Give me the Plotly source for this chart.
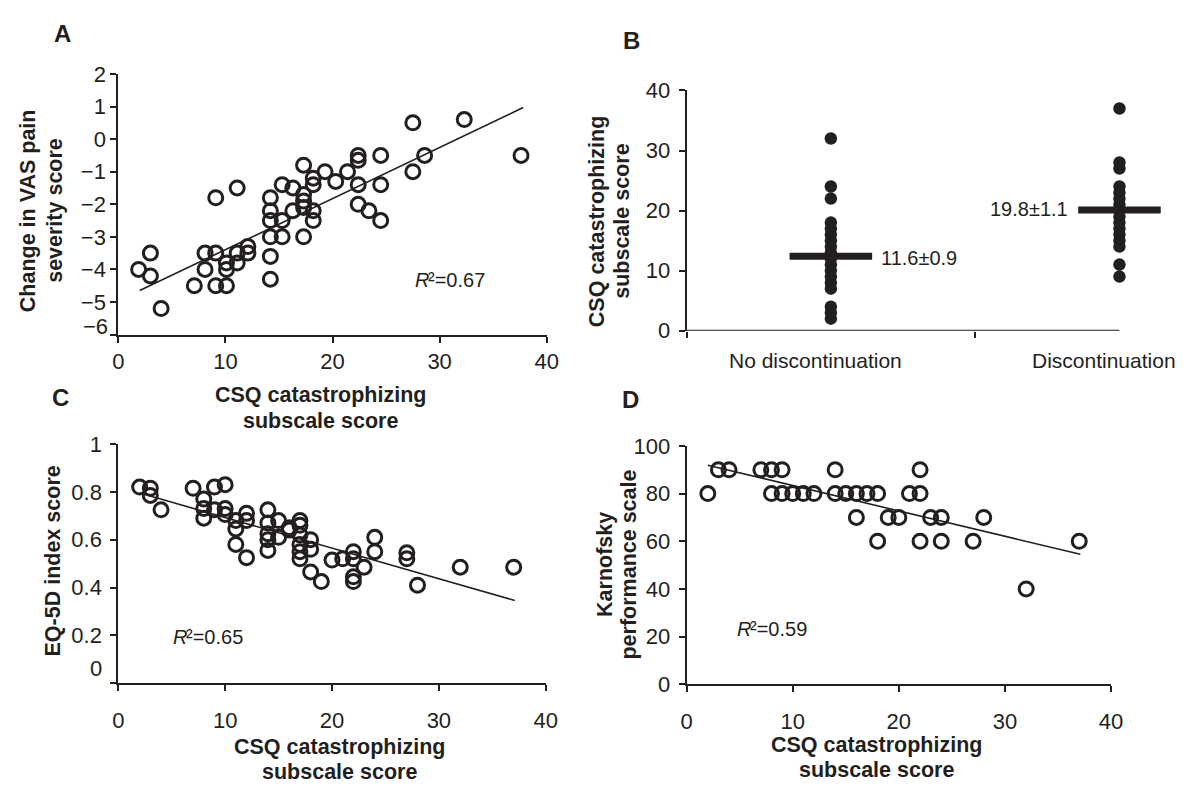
import plotly.graph_objects as go

W, H = 1194, 796

# ---------------- Data ----------------
# Panel A: CSQ catastrophizing vs change in VAS pain severity
a_x = [1.9, 3.0, 3.0, 4.0, 7.1, 8.1, 8.1, 9.1, 9.1, 9.1, 10.1, 10.1, 10.1, 11.1, 11.1, 11.1,
       12.1, 12.1, 14.2, 14.2, 14.2, 14.2, 14.2, 14.2, 15.3, 15.3, 15.3, 16.3, 16.3,
       17.3, 17.3, 17.3, 17.3, 17.3, 18.2, 18.2, 18.2, 18.2, 19.3, 20.3, 21.4,
       22.4, 22.4, 22.4, 22.4, 23.4, 24.5, 24.5, 24.5, 27.5, 27.5, 28.6, 32.3, 37.6]
a_y = [-4.0, -3.5, -4.2, -5.2, -4.5, -3.5, -4.0, -1.8, -3.5, -4.5, -3.8, -4.0, -4.5, -1.5, -3.5, -3.8,
       -3.3, -3.5, -1.8, -2.2, -2.5, -3.0, -3.6, -4.3, -1.4, -2.5, -3.0, -1.5, -2.2,
       -0.8, -1.7, -1.9, -2.1, -3.0, -1.2, -1.4, -2.2, -2.5, -1.0, -1.3, -1.0,
       -0.5, -0.65, -1.4, -2.0, -2.2, -0.5, -1.4, -2.5, 0.5, -1.0, -0.5, 0.6, -0.5]
a_fit_x = [2.0, 37.8]
a_fit_y = [-4.65, 0.97]
a_r2 = "0.67"
a_yticks = [-5, -4, -3, -2, -1, 0, 1, 2]
a_ytext = ["−5", "−4", "−3", "−2", "−1", "0", "1", "2"]

# Panel B: CSQ scores by group
b_categories = ["No discontinuation", "Discontinuation"]
b_values = [
    [32, 24, 22, 18, 17, 16, 15, 14, 13, 12, 11, 10, 9, 8, 7, 4, 3, 2],
    [37, 28, 27, 24, 23, 22, 21, 20, 19, 18, 17, 16, 15, 14, 11, 9],
]
b_mean_bar = [12.4, 20.1]
b_mean_text = ["11.6±0.9", "19.8±1.1"]
b_yticks = [0, 10, 20, 30, 40]

# Panel C: CSQ catastrophizing vs EQ-5D index score
c_x = [2, 3, 3, 4, 7, 8, 8, 8, 9, 9, 10, 10, 10, 11, 11, 11, 12, 12, 12,
       14, 14, 14, 14, 14, 15, 15, 16, 16, 17, 17, 17, 17, 17, 17, 18, 18, 18,
       19, 20, 21, 22, 22, 22, 22, 23, 24, 24, 27, 27, 28, 32, 37]
c_y = [0.82, 0.815, 0.785, 0.725, 0.815, 0.77, 0.73, 0.69, 0.82, 0.725, 0.83, 0.73, 0.705,
       0.68, 0.645, 0.58, 0.71, 0.68, 0.525,
       0.725, 0.67, 0.625, 0.60, 0.555, 0.68, 0.61, 0.65, 0.64,
       0.68, 0.66, 0.62, 0.58, 0.55, 0.52, 0.60, 0.56, 0.465,
       0.425, 0.515, 0.52, 0.55, 0.52, 0.445, 0.425, 0.485, 0.61, 0.55,
       0.545, 0.52, 0.41, 0.485, 0.485]
c_fit_x = [2.0, 37.1]
c_fit_y = [0.795, 0.346]
c_r2 = "0.65"
c_yticks = [0.2, 0.4, 0.6, 0.8, 1]
c_ytext = ["0.2", "0.4", "0.6", "0.8", "1"]

# Panel D: CSQ catastrophizing vs Karnofsky performance scale
d_x = [2, 3, 4, 7, 8, 9, 8, 9, 10, 11, 12, 14, 14, 15, 16, 16, 17, 18, 18,
       19, 20, 21, 22, 22, 22, 23, 24, 24, 27, 28, 32, 37]
d_y = [80, 90, 90, 90, 90, 90, 80, 80, 80, 80, 80, 90, 80, 80, 80, 70, 80, 80, 60,
       70, 70, 80, 90, 80, 60, 70, 70, 60, 60, 70, 40, 60]
d_fit_x = [2.0, 37.1]
d_fit_y = [91.9, 54.5]
d_r2 = "0.59"
d_yticks = [0, 20, 40, 60, 80, 100]

x_ticks = [0, 10, 20, 30, 40]

# ---------------- Styling helpers ----------------
FONT = "Liberation Sans, Arial, Helvetica, sans-serif"
INK = "#231f20"
TICK_SIZE = 22
TITLE_SIZE = 21.5


def dx(p0, p1):
    return [p0 / W, p1 / W]


def dy(p0, p1):
    return [1 - p1 / H, 1 - p0 / H]


def px(x):
    return x / W


def py(y):
    return 1 - y / H


def axis(domain, rng, tickvals, ticktext=None, standoff=None, minor0=None, **kw):
    d = dict(domain=domain, range=rng, tickvals=tickvals,
             showline=True, linewidth=2, linecolor=INK,
             ticks="outside", ticklen=6, tickwidth=1.5, tickcolor=INK,
             showgrid=False, zeroline=False, fixedrange=True,
             tickfont=dict(family=FONT, size=TICK_SIZE, color=INK))
    if ticktext is not None:
        d["ticktext"] = ticktext
    if standoff is not None:
        d["ticklabelstandoff"] = standoff
    if minor0 is not None:
        d["minor"] = dict(tickvals=[minor0], ticks="outside", ticklen=6, tickwidth=1.5,
                          tickcolor=INK, showgrid=False)
    d.update(kw)
    return d


open_marker = dict(symbol="circle-open", size=14, color=INK, line=dict(width=3, color=INK))
fit_line = dict(color=INK, width=1.6)

fig = go.Figure()

# Panel A
fig.add_trace(go.Scatter(x=a_x, y=a_y, mode="markers", marker=open_marker,
                         xaxis="x", yaxis="y", showlegend=False))
fig.add_trace(go.Scatter(x=a_fit_x, y=a_fit_y, mode="lines", line=fit_line,
                         xaxis="x", yaxis="y", showlegend=False))

# Panel B
b_pos = [i + 0.5 for i in range(len(b_categories))]
b_half = 0.143
for i, vals in enumerate(b_values):
    fig.add_trace(go.Scatter(x=[b_pos[i]] * len(vals), y=vals, mode="markers",
                             marker=dict(symbol="circle", size=12.5, color=INK),
                             xaxis="x2", yaxis="y2", showlegend=False))
    fig.add_trace(go.Scatter(x=[b_pos[i] - b_half, b_pos[i] + b_half],
                             y=[b_mean_bar[i], b_mean_bar[i]], mode="lines",
                             line=dict(color=INK, width=7),
                             xaxis="x2", yaxis="y2", showlegend=False))

# Panel C
fig.add_trace(go.Scatter(x=c_x, y=c_y, mode="markers", marker=open_marker,
                         xaxis="x3", yaxis="y3", showlegend=False))
fig.add_trace(go.Scatter(x=c_fit_x, y=c_fit_y, mode="lines", line=fit_line,
                         xaxis="x3", yaxis="y3", showlegend=False))

# Panel D
fig.add_trace(go.Scatter(x=d_x, y=d_y, mode="markers", marker=open_marker,
                         xaxis="x4", yaxis="y4", showlegend=False))
fig.add_trace(go.Scatter(x=d_fit_x, y=d_fit_y, mode="lines", line=fit_line,
                         xaxis="x4", yaxis="y4", showlegend=False))

b_unit = 293.0
b_x0 = 691.0
b_range = [0, 1.7]

fig.update_layout(
    width=W, height=H, autosize=False,
    margin=dict(l=0, r=0, t=0, b=0),
    paper_bgcolor="white", plot_bgcolor="white",
    font=dict(family=FONT, color=INK),
    xaxis=axis(dx(114, 549), [0, 40], x_ticks, anchor="y"),
    yaxis=axis(dy(64, 333), [-6, 2], a_yticks, ticktext=a_ytext, minor0=-6, anchor="x"),
    xaxis2=axis(dx(b_x0, b_x0 + b_unit * b_range[1]), b_range, [0, 1],
                anchor="y2", showline=False, showticklabels=False),
    yaxis2=axis(dy(81, 329), [0, 40], b_yticks, standoff=4, anchor="x2"),
    xaxis3=axis(dx(114, 548), [0, 40], x_ticks, standoff=10, anchor="y3"),
    yaxis3=axis(dy(446, 693), [0, 1], c_yticks, ticktext=c_ytext, standoff=4, minor0=0, anchor="x3"),
    xaxis4=axis(dx(691, 1122), [0, 40], x_ticks, standoff=10, anchor="y4"),
    yaxis4=axis(dy(448, 694), [0, 100], d_yticks, standoff=4, anchor="x4"),
)

# B x-axis line only up to the second category
fig.add_shape(type="line", xref="x2", yref="y2", x0=0, x1=b_pos[-1], y0=0, y1=0,
              line=dict(color=INK, width=2))

ann = []


def text(x, y, s, size=TICK_SIZE, bold=False, italic=False, angle=0, xanchor="center", yanchor="middle"):
    f = dict(family=FONT, size=size, color=INK)
    if bold:
        f["weight"] = "bold"
    if italic:
        f["style"] = "italic"
    ann.append(dict(x=px(x), y=py(y), xref="paper", yref="paper", text=s,
                    showarrow=False, textangle=angle, xanchor=xanchor, yanchor=yanchor, font=f))


# Panel letters
text(57, 22, "A", size=24, bold=True)
text(635, 29, "B", size=24, bold=True)
text(55, 398, "C", size=24, bold=True)
text(634, 400, "D", size=24, bold=True)

# Bottom y tick labels drawn slightly above their ticks (as in the original)
text(106, 325, "−6", size=TICK_SIZE, xanchor="right")
text(100, 678, "0", size=TICK_SIZE, xanchor="right")

# Axis titles (one annotation per line)
text(22, 205, "Change in VAS pain", size=TITLE_SIZE, bold=True, angle=-90)
text(49, 205, "severity score", size=TITLE_SIZE, bold=True, angle=-90)
text(319, 395, "CSQ catastrophizing", size=TITLE_SIZE, bold=True)
text(319, 422, "subscale score", size=TITLE_SIZE, bold=True)
text(600, 216, "CSQ catastrophizing", size=TITLE_SIZE, bold=True, angle=-90)
text(626, 216, "subscale score", size=TITLE_SIZE, bold=True, angle=-90)
text(48, 567, "EQ-5D index score", size=TITLE_SIZE, bold=True, angle=-90)
text(339, 759, "CSQ catastrophizing", size=TITLE_SIZE, bold=True)
text(339, 785, "subscale score", size=TITLE_SIZE, bold=True)
text(608, 570, "Karnofsky", size=TITLE_SIZE, bold=True, angle=-90)
text(633, 570, "performance scale", size=TITLE_SIZE, bold=True, angle=-90)
text(884, 757, "CSQ catastrophizing", size=TITLE_SIZE, bold=True)
text(884, 783, "subscale score", size=TITLE_SIZE, bold=True)

# Panel B category labels and mean labels
text(822, 360, b_categories[0], size=21)
text(1115, 360, b_categories[1], size=21)
text(886, 254, b_mean_text[0], size=20, xanchor="left")
text(1080, 203, b_mean_text[1], size=20, xanchor="right")

# R-squared labels: italic R followed by superscript two and value
for cx, cy, val in [(451, 277, a_r2), (206, 645, c_r2), (778, 637, d_r2)]:
    text(cx - 20, cy, "R", size=20, italic=True, xanchor="right")
    text(cx - 25, cy, "²=" + val, size=20, xanchor="left")

fig.update_layout(annotations=ann)

fig.write_html(
    "out.html",
    config={"displayModeBar": False},
    post_script="document.body.style.margin='0';document.body.style.overflow='hidden';",
)
